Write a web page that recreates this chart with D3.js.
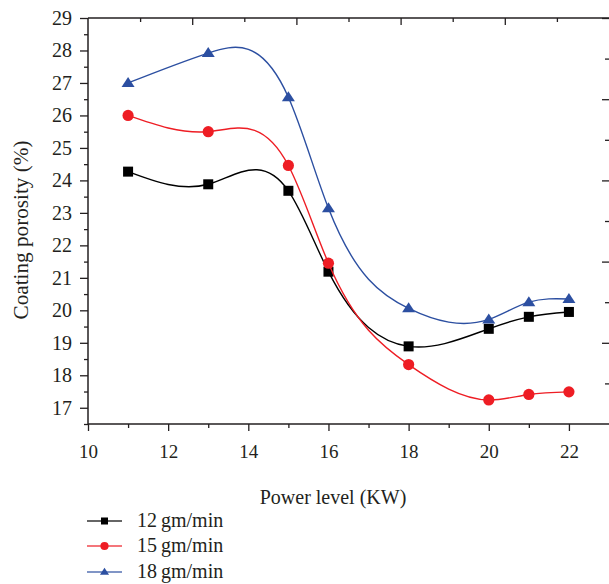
<!DOCTYPE html>
<html>
<head>
<meta charset="utf-8">
<script src="https://cdn.jsdelivr.net/npm/d3@7"></script>
<style>
  body { margin: 0; background: #fff; }
  svg text { font-family: "Liberation Serif", "DejaVu Serif", serif; fill: #231f20; }
</style>
</head>
<body>
<svg id="chart" width="609" height="584"></svg>
<script>
// Power level (KW) at which porosity was measured
const power = [11, 13, 15, 16, 18, 20, 21, 22];
// Coating porosity (%) for each powder feed rate
const porosity12 = [24.27, 23.88, 23.68, 21.19, 18.89, 19.43, 19.80, 19.95];
const porosity15 = [26.00, 25.50, 24.46, 21.45, 18.33, 17.24, 17.41, 17.49];
const porosity18 = [27.00, 27.92, 26.56, 23.14, 20.06, 19.72, 20.25, 20.35];
const seriesNames = ["12\u2009gm/min", "15\u2009gm/min", "18\u2009gm/min"];
const xTicks = [10, 12, 14, 16, 18, 20, 22];
const yTicks = [17, 18, 19, 20, 21, 22, 23, 24, 25, 26, 27, 28, 29];

const series = [
  { name: seriesNames[0], values: porosity12, color: "#000000", marker: "square" },
  { name: seriesNames[1], values: porosity15, color: "#ee1d24", marker: "circle" },
  { name: seriesNames[2], values: porosity18, color: "#2c4fa1", marker: "triangle" }
];

const svg = d3.select("#chart");
const plotLeft = 88, plotRight = 609, plotTop = 18, plotBottom = 424;

const x = d3.scaleLinear().domain([10, 23]).range([plotLeft, plotRight]);
const y = d3.scaleLinear().domain([16.5, 29]).range([plotBottom, plotTop]);

const ink = "#231f20";

// Natural cubic spline of y as a function of x, emitted as Bezier segments
class SplineX {
  constructor(context) { this._context = context; }
  areaStart() {}
  areaEnd() {}
  lineStart() { this._xs = []; this._ys = []; }
  point(px, py) { this._xs.push(+px); this._ys.push(+py); }
  lineEnd() {
    const xs = this._xs, ys = this._ys, n = xs.length - 1, ctx = this._context;
    if (n < 0) return;
    ctx.moveTo(xs[0], ys[0]);
    if (n === 0) return;
    const h = d3.range(n).map(i => xs[i + 1] - xs[i]);
    const M = new Array(n + 1).fill(0);
    if (n > 1) {
      // Tridiagonal solve for interior second derivatives
      const a = [], b = [], c = [], d = [];
      for (let i = 1; i < n; i++) {
        a.push(h[i - 1]);
        b.push(2 * (h[i - 1] + h[i]));
        c.push(h[i]);
        d.push(6 * ((ys[i + 1] - ys[i]) / h[i] - (ys[i] - ys[i - 1]) / h[i - 1]));
      }
      const m = b.length;
      for (let i = 1; i < m; i++) {
        const w = a[i] / b[i - 1];
        b[i] -= w * c[i - 1];
        d[i] -= w * d[i - 1];
      }
      const sol = new Array(m);
      sol[m - 1] = d[m - 1] / b[m - 1];
      for (let i = m - 2; i >= 0; i--) sol[i] = (d[i] - c[i] * sol[i + 1]) / b[i];
      for (let i = 1; i < n; i++) M[i] = sol[i - 1];
    }
    const slope = new Array(n + 1);
    for (let i = 0; i < n; i++) {
      slope[i] = (ys[i + 1] - ys[i]) / h[i] - h[i] * (2 * M[i] + M[i + 1]) / 6;
    }
    slope[n] = (ys[n] - ys[n - 1]) / h[n - 1] + h[n - 1] * (M[n - 1] + 2 * M[n]) / 6;
    for (let i = 0; i < n; i++) {
      const t = h[i] / 3;
      ctx.bezierCurveTo(xs[i] + t, ys[i] + slope[i] * t,
                        xs[i + 1] - t, ys[i + 1] - slope[i + 1] * t,
                        xs[i + 1], ys[i + 1]);
    }
  }
}
const curveSplineX = context => new SplineX(context);

// Frame lines
[[plotLeft, plotBottom, plotRight, plotBottom],
 [plotLeft, plotTop, plotRight, plotTop],
 [plotLeft, plotTop, plotLeft, plotBottom]].forEach(([x1, y1, x2, y2]) =>
  svg.append("line").attr("x1", x1).attr("y1", y1).attr("x2", x2).attr("y2", y2)
    .attr("stroke", ink).attr("stroke-width", 1.5));

function styleTicks(g) {
  g.select(".domain").remove();
  g.selectAll(".tick line").attr("stroke", ink).attr("stroke-width", 1.3);
}

// Bottom axis: labelled majors, minors at odd values
const gx = svg.append("g").attr("transform", `translate(0,${plotBottom})`)
  .call(d3.axisBottom(x).tickValues(xTicks).tickSize(7).tickPadding(14).tickFormat(d3.format("d")));
styleTicks(gx);
gx.selectAll(".tick text").attr("font-size", 19).style("fill", ink);
const gxm = svg.append("g").attr("transform", `translate(0,${plotBottom})`)
  .call(d3.axisBottom(x).tickValues(d3.range(11, 23, 2)).tickSize(4).tickFormat(""));
styleTicks(gxm);

// Left axis: labelled majors, minors at halves
const gy = svg.append("g").attr("transform", `translate(${plotLeft},0)`)
  .call(d3.axisLeft(y).tickValues(yTicks).tickSize(8).tickPadding(8).tickFormat(d3.format("d")));
styleTicks(gy);
gy.selectAll(".tick text").attr("font-size", 20).style("fill", ink);
const gym = svg.append("g").attr("transform", `translate(${plotLeft},0)`)
  .call(d3.axisLeft(y).tickValues(d3.range(16.5, 29, 1)).tickSize(4).tickFormat(""));
styleTicks(gym);

// Top axis: unlabelled inward ticks
const xTop = d3.scaleLinear().domain([0, 5]).range([plotLeft, plotRight]);
const gt = svg.append("g").attr("transform", `translate(0,${plotTop})`)
  .call(d3.axisBottom(xTop).tickValues(d3.range(1, 5)).tickSize(7).tickFormat(""));
styleTicks(gt);
const gtm = svg.append("g").attr("transform", `translate(0,${plotTop})`)
  .call(d3.axisBottom(xTop).tickValues(d3.range(0.5, 5, 1)).tickSize(4).tickFormat(""));
styleTicks(gtm);

// Right axis: unlabelled inward ticks
const yRight = d3.scaleLinear().domain([0, 5]).range([plotBottom, plotTop]);
const gr = svg.append("g").attr("transform", `translate(${plotRight},0)`)
  .call(d3.axisLeft(yRight).tickValues(d3.range(1, 6)).tickSize(7).tickFormat(""));
styleTicks(gr);
const grm = svg.append("g").attr("transform", `translate(${plotRight},0)`)
  .call(d3.axisLeft(yRight).tickValues(d3.range(0.5, 5, 1)).tickSize(4).tickFormat(""));
styleTicks(grm);

// Axis titles
svg.append("text").attr("x", 333).attr("y", 504).attr("text-anchor", "middle")
  .attr("font-size", 20).text("Power level (KW)");
svg.append("text").attr("transform", "translate(28,230) rotate(-90) scale(1.06,1)").attr("text-anchor", "middle")
  .attr("font-size", 20).text("Coating porosity (%)");

// Smooth curves through the measured points
const line = d3.line().x((d, i) => x(power[i])).y(d => y(d)).curve(curveSplineX);

function drawMarker(g, type, cx, cy, size, color) {
  if (type === "square") {
    g.append("rect").attr("x", cx - size / 2).attr("y", cy - size / 2)
      .attr("width", size).attr("height", size).attr("fill", color);
  } else if (type === "circle") {
    g.append("circle").attr("cx", cx).attr("cy", cy).attr("r", size / 2 + 0.6).attr("fill", color);
  } else {
    const h = size;
    const w = size * 1.3;
    g.append("path")
      .attr("d", `M${cx},${cy - h * 0.6}L${cx + w / 2},${cy + h * 0.4}L${cx - w / 2},${cy + h * 0.4}Z`)
      .attr("fill", color);
  }
}

series.forEach(s => {
  const g = svg.append("g");
  g.append("path").datum(s.values).attr("d", line)
    .attr("fill", "none").attr("stroke", s.color).attr("stroke-width", 1.4);
  s.values.forEach((v, i) => drawMarker(g, s.marker, x(power[i]), y(v), 10, s.color));
});

// Legend
const legendY = [521, 546, 572];
series.forEach((s, i) => {
  const g = svg.append("g");
  g.append("line").attr("x1", 87).attr("x2", 122).attr("y1", legendY[i]).attr("y2", legendY[i])
    .attr("stroke", s.color).attr("stroke-width", 1.4).attr("opacity", 0.8);
  drawMarker(g, s.marker, 104.5, legendY[i], 7, s.color);
  g.append("text").attr("x", 137).attr("y", legendY[i] + 6).attr("font-size", 20).text(s.name);
});
</script>
</body>
</html>
